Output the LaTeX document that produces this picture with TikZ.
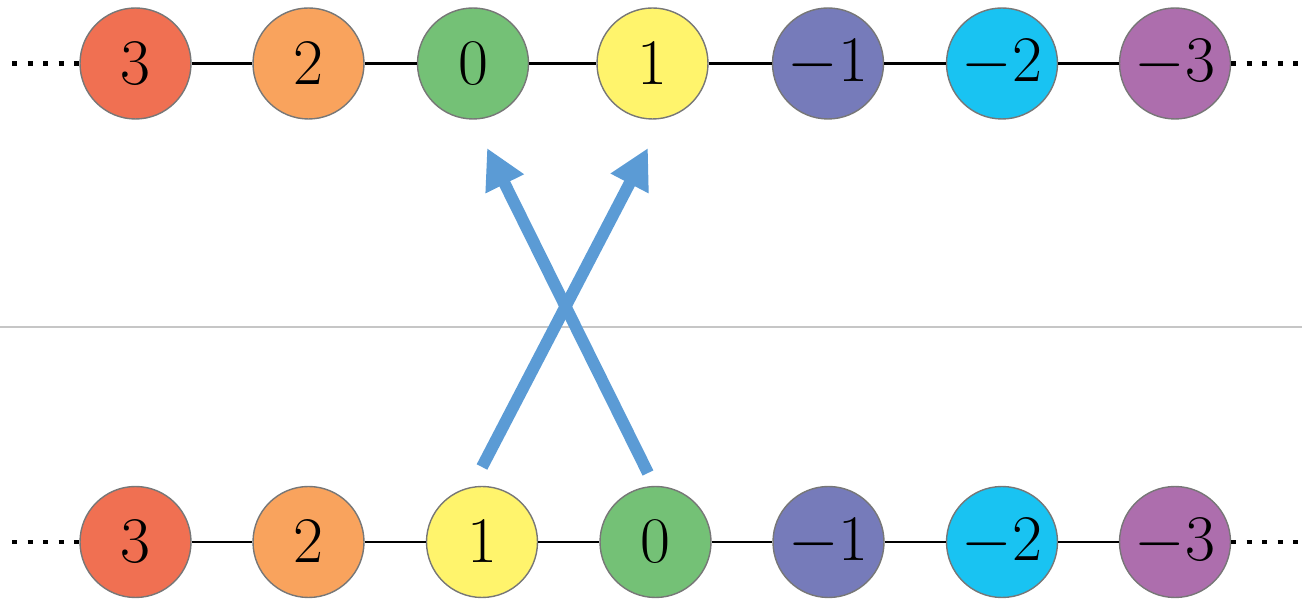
\RequirePackage{fix-cm}
\documentclass[tikz,border=0pt]{standalone}
\usepackage{tikz}
\usetikzlibrary{arrows.meta}
\definecolor{cthree}{HTML}{F07052}
\definecolor{ctwo}{HTML}{F9A35D}
\definecolor{czero}{HTML}{74C176}
\definecolor{cone}{HTML}{FFF46C}
\definecolor{cmone}{HTML}{767BBA}
\definecolor{cmtwo}{HTML}{19C3F2}
\definecolor{cmthree}{HTML}{AD6EAD}
\definecolor{ballgray}{HTML}{777777}
\definecolor{swapblue}{HTML}{5B9BD5}

\begin{document}
\begin{tikzpicture}[ball/.style={circle, draw=ballgray, line width=0.8pt, minimum size=2.22cm, inner sep=0pt, font=\fontsize{37}{44}\selectfont}, link/.style={black, line width=1.4pt}, more/.style={black, line width=2.8pt, dash pattern=on 0.1cm off 0.21cm}, swap/.style={-{Triangle[length=8mm, width=8mm]}, swapblue, line width=6.8pt}]
	\useasboundingbox (0,0) rectangle (26.04,12.02);
	\draw[gray!45, line width=0.8pt] (0,5.48) -- (26.04,5.48);
	% upper row
	\node[ball, fill=cthree] (t3) at (2.71,10.75) {$3$};
	\node[ball, fill=ctwo] (t2) at (6.17,10.75) {$2$};
	\node[ball, fill=czero] (t0) at (9.46,10.75) {$0$};
	\node[ball, fill=cone] (t1) at (13.05,10.75) {$1$};
	\node[ball, fill=cmone] (tm1) at (16.56,10.75) {$-1$};
	\node[ball, fill=cmtwo] (tm2) at (20.04,10.75) {$-2$};
	\node[ball, fill=cmthree] (tm3) at (23.50,10.75) {$-3$};
	\coordinate (tl) at (0.24,10.75);
	\coordinate (tr) at (25.98,10.75);
	\draw[more] (tl) -- (t3.west);
	\draw[more] (tm3.east) -- (tr);
	\draw[link] (t3) -- (t2);
	\draw[link] (t2) -- (t0);
	\draw[link] (t0) -- (t1);
	\draw[link] (t1) -- (tm1);
	\draw[link] (tm1) -- (tm2);
	\draw[link] (tm2) -- (tm3);
	% lower row
	\node[ball, fill=cthree] (b3) at (2.71,1.18) {$3$};
	\node[ball, fill=ctwo] (b2) at (6.17,1.18) {$2$};
	\node[ball, fill=cone] (b1) at (9.64,1.18) {$1$};
	\node[ball, fill=czero] (b0) at (13.11,1.18) {$0$};
	\node[ball, fill=cmone] (bm1) at (16.57,1.18) {$-1$};
	\node[ball, fill=cmtwo] (bm2) at (20.04,1.18) {$-2$};
	\node[ball, fill=cmthree] (bm3) at (23.50,1.18) {$-3$};
	\coordinate (bl) at (0.24,1.18);
	\coordinate (br) at (25.98,1.18);
	\draw[more] (bl) -- (b3.west);
	\draw[more] (bm3.east) -- (br);
	\draw[link] (b3) -- (b2);
	\draw[link] (b2) -- (b1);
	\draw[link] (b1) -- (b0);
	\draw[link] (b0) -- (bm1);
	\draw[link] (bm1) -- (bm2);
	\draw[link] (bm2) -- (bm3);
	% the swap
	\coordinate (s1) at ([yshift=1.5cm]b1.center);
	\coordinate (e1) at ([shift={(-0.09,-1.69)}]t1.center);
	\coordinate (s0) at ([shift={(-0.15,1.38)}]b0.center);
	\coordinate (e0) at ([shift={(0.28,-1.69)}]t0.center);
	\draw[swap] (s1) -- (e1);
	\draw[swap] (s0) -- (e0);
\end{tikzpicture}
\end{document}
